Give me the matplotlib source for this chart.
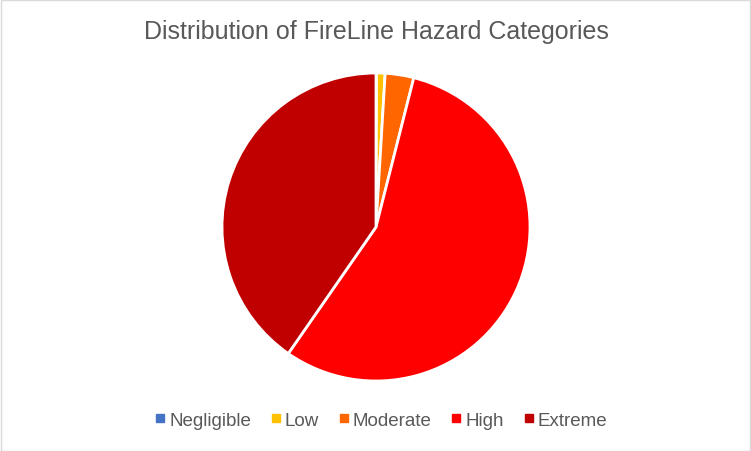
import matplotlib
matplotlib.use("Agg")
import matplotlib.pyplot as plt
from matplotlib.patches import Rectangle
from matplotlib.lines import Line2D

# data
categories = ["Negligible", "Low", "Moderate", "High", "Extreme"]
shares = [0.05, 0.9, 3.0, 55.7, 40.35]
colors = ["#4472C4", "#FFC000", "#FF6600", "#FF0000", "#C00000"]

W, H = 751, 452
fig = plt.figure(figsize=(W / 100, H / 100), dpi=100)
fig.patch.set_facecolor("white")
fig.patches.append(Rectangle((0.5 / W, 0.5 / H), 1 - 1.5 / W, 1 - 1.5 / H,
                             transform=fig.transFigure, fill=False,
                             edgecolor="#D9D9D9", linewidth=1))

# pie centred at (376, 228) px, radius 154 px
cx, cy, r = 376, 228, 154
ax = fig.add_axes([(cx - r) / W, (H - cy - r) / H, 2 * r / W, 2 * r / H])
ax.pie(shares, colors=colors, startangle=90, counterclock=False,
       wedgeprops=dict(edgecolor="white", linewidth=2))
ax.set_xlim(-1, 1)
ax.set_ylim(-1, 1)
ax.set_aspect("equal")
ax.axis("off")

fig.text(cx / W, 1 - 32 / H, "Distribution of FireLine Hazard Categories",
         ha="center", va="center", fontsize=18, color="#595959",
         family="Liberation Sans")

handles = [Line2D([], [], marker="s", linestyle="", markersize=5.5,
                  markerfacecolor=c, markeredgecolor=c) for c in colors]
fig.legend(handles, categories, loc="center", bbox_to_anchor=(380 / W, 1 - 421 / H),
           ncol=5, frameon=False, handletextpad=0.1, columnspacing=0.9,
           prop=dict(family="Liberation Sans", size=13.5), labelcolor="#595959",
           handlelength=0.8)

fig.savefig("out.png", dpi=100)
